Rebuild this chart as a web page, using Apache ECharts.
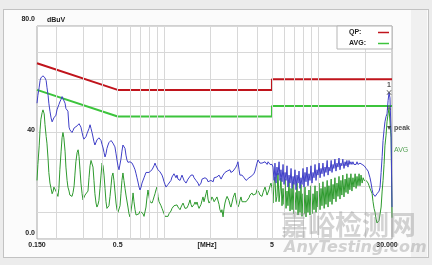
<!DOCTYPE html>
<html><head><meta charset="utf-8">
<script src="https://cdn.jsdelivr.net/npm/echarts@6/dist/echarts.min.js"></script>
<style>
html,body{margin:0;padding:0;background:#ececec;width:432px;height:265px;overflow:hidden;}
#panel{position:absolute;left:3px;top:9px;width:424px;height:247px;background:#fbfbfb;border:1px solid #c2c2c2;}
#strip{position:absolute;left:411px;top:10px;width:16px;height:247px;background:#f0f0f0;}
#c{position:absolute;left:0;top:0;width:432px;height:265px;}
</style>
</head><body><div id="panel"></div><div id="strip"></div><div id="c"></div>
<script>
// Frequency grid (MHz)
const freq = [
.150,.152,.155,.157,.159,.162,.164,.167,.169,.172,
.174,.177,.179,.182,.185,.188,.191,.193,.196,.199,
.202,.205,.208,.211,.215,.218,.221,.224,.228,.231,
.235,.238,.242,.245,.249,.253,.257,.261,.264,.268,
.273,.277,.281,.285,.289,.294,.298,.302,.307,.312,
.316,.321,.326,.331,.336,.341,.346,.351,.356,.362,
.367,.373,.378,.384,.390,.396,.402,.408,.414,.420,
.426,.433,.439,.446,.453,.459,.466,.473,.480,.488,
.495,.502,.510,.518,.525,.533,.541,.549,.558,.566,
.574,.583,.592,.601,
.610,.620,.629,.638,.648,.658,.667,.677,.688,.698,
.709,.719,.730,.741,.752,.763,.775,.786,.798,.810,
.822,.835,.847,.860,.873,.886,.899,.913,.927,.941,
.955,.969,.984,.999,1.014,1.029,1.044,1.06,1.076,1.092,
1.108,1.125,1.142,1.159,1.177,1.194,1.212,1.230,1.249,1.268,
1.287,1.306,1.326,1.346,1.366,1.387,1.408,1.429,1.450,1.472,
1.494,1.517,1.540,1.563,1.586,1.610,1.634,1.659,1.684,1.709,
1.735,1.761,1.787,1.814,1.841,1.869,1.897,1.926,1.955,1.984,
2.01,2.04,2.08,2.11,2.14,2.17,2.20,2.24,2.27,2.30,
2.34,2.37,2.41,2.44,2.48,2.52,2.56,2.60,2.63,2.67,
2.71,2.75,2.80,2.84,2.88,2.92,2.97,3.01,3.06,3.10,
3.15,3.20,3.25,3.30,3.35,3.40,3.45,3.50,3.55,3.60,
3.66,3.71,3.77,3.82,3.88,3.94,4.00,4.06,4.12,4.18,
4.25,4.31,4.38,4.44,4.51,4.58,4.65,4.72,4.79,4.86,
4.93,5.01,5.08,5.16,5.23,5.31,5.39,5.47,5.56,5.64,
5.72,5.81,5.90,5.99,6.08,6.17,6.26,6.35,6.45,6.55,
6.65,6.75,6.85,6.95,7.05,7.16,7.27,7.38,7.49,7.60,
7.71,7.83,7.95,8.07,8.19,8.31,8.44,8.56,8.69,8.82,
8.95,9.09,9.23,9.37,9.51,9.65,9.80,9.94,10.1,10.25,
10.4,10.55,10.7,10.9,11.04,11.2,11.4,11.55,11.7,11.9,
12.1,12.25,12.45,12.6,12.8,13.0,13.2,13.4,13.6,13.8,
14.0,14.2,14.4,14.65,14.9,15.1,15.3,15.55,15.8,16.0,
16.25,16.5,16.75,17.0,17.3,17.55,17.8,18.05,18.35,18.6,
18.9,19.2,19.5,19.8,20.1,20.4,20.7,21.0,21.3,21.6,
21.95,22.3,22.6,22.95,23.3,23.65,24.0,24.4,24.75,25.1,
25.5,25.9,26.25,26.65,27.0,27.45,27.85,28.3,28.7,29.1,
29.6,30.0
];
// Peak detector trace (dBuV)
const peakLevel = [
51,54,57,59.5,60.5,61,61.3,61,60.5,59.5,
57,54,51,48,45.5,44,44.5,45.5,46,46.5,
48.5,49,50.5,51.5,52.5,53.5,54,53.4,51,49,
48.5,48,42,41,40.5,40,40.8,41.7,41.5,42.3,
42.5,42.9,43.3,43.6,42,40,38.5,37.5,37.2,38.5,
39.5,40,41.5,42.9,41.5,40,38.3,36.5,35.3,36,
37.2,37.5,38,38.3,37,35.5,34.2,32.5,30.8,32,
34,35.3,36.2,36.8,37,37.2,36,35.3,34.6,32,
29.7,27.5,26,26.5,30,33,35.3,35,34,31.5,
29.7,28.8,28.5,29,
28.5,28.5,28,27,26,24.5,23,21.4,19.5,18.4,
19.5,21,21.5,23,24,25,25.2,24.5,25,24.8,
25.5,26,26,27.5,28.5,27.5,27,26,26,25.2,
24.5,24,22.9,21.5,20.5,19.5,19.5,20.5,21,21,
22,23.3,23,24.5,24,23,24,22.5,22,22,
23,24,23.3,22,21.5,21,21,22.5,23,22.9,
24,23.5,24,23,22.5,22,22,21,20,19.5,
21,22.5,22,22.5,23,22.9,22.5,21.5,21,21,
22,22.5,21.5,23,23.3,22.5,23.3,23,24,24,
22.5,23,24,24.5,25,24.5,25.5,25,25.5,26,
25,25.5,25.5,26,26,27,28,29,26,24,
24.5,24,23.5,23,23,22,22.5,22,23,23.5,
23.5,24,23.5,24.5,25.5,27,28.5,29.7,29,28.5,
29,28.5,28,28.5,29,28.5,28,29,28.5,28,
27.5,28,27,22,28.5,21,27,24,29,22,
26,21.5,28,20.5,25,22,27.5,19.5,24,21,
26.5,19,23.5,20.5,26,18.5,24,21,25.5,19,
23,20.5,26.5,19.5,25,21.5,27,20,24.5,22,
27.5,21,25,23,28,22,26,24,28.5,23,
26.5,24.5,28.5,23.5,27,25,29.5,24,27,25.5,
29.5,25,28,26.5,30,25.5,28.5,27,30.4,26,
28.5,27.5,30,26.5,29,27.5,29.5,27,29.5,28,
29,28,29,28,28.5,28,29,28,28.5,28.5,
28,28,27.5,27.5,27,26.5,26.7,25.5,25,23,
21,18.5,17,16.5,16,16.5,17,17,18,19.5,
25,31,37,41,44,46,47,52,55,53,
40,12
];
// Average detector trace (dBuV)
const avgLevel = [
22,28,35,41,45,47.5,48.5,47,43,38.5,
36,30,25,21,19,17,18,19.5,19.5,18,
17,16,19,26,33,38,40,38,33,27,
22,19.5,18,16.5,16,16,17.5,20,24,29,
32.5,33.5,31,26,21,17,14.7,15,16.5,17,
16,18,23,27.5,29.5,29.7,27,22,17,13.5,
12,13,14.5,19,24,28.5,27.5,24,19,14,
11.5,11,12.5,16,20,23.5,24.8,22,18,13.5,
11,10,10.5,12.5,17,22,24.8,22,19,16.5,
16,12,9.5,8.3,
10.5,13.5,17.3,14,11,9,8.5,8.3,9.5,10.5,
11,11,9.5,8.5,8.3,12,15.8,18.4,16,14,
13.5,13.5,14.5,15.8,17,18.5,19.5,16,14,13.5,
12.5,11.5,11,9.5,8.5,8,7.9,8.5,9.5,9.8,
10.5,11.5,12,12.5,13,12.8,12.8,12,11.5,11,
12,12.5,13.5,12.5,11.5,11,11.7,12.5,13.5,14.7,
13,12,12,13,13.9,13,13.9,12.5,11.5,11.7,
13,14.5,15.8,14,15.5,17,18.4,15,13.5,13.5,
14.5,15.8,15,14,13.5,14,15.8,15.8,13,11,
10,11,8.3,11,13.5,15,16,16.5,14.5,13,
12,13.5,15.5,16.5,17.3,15,13,12,13,14.5,
15.8,14,13.5,14,13.5,14,14.5,14.7,15.5,16.5,
17,17.3,16.5,16,15.8,17,18.5,19.2,17.5,16.5,
15.8,16,17.5,18.5,19.5,18,16.5,17,18.5,20,
21,19,13.5,21,23.3,14,16,24.8,14,18,
22.9,12.5,19,13,22.5,11.5,18,12.5,22,10.5,
19,11,21.5,9.5,17.5,11,21,9,18,10,
20.5,8.5,17,9.5,19.5,8.3,16.5,10,18.4,9,
20,9.5,17,11,20,10,18,12,21,11,
19,12.5,21.5,11.5,19.5,13,22,12,20,14,
22.5,13,20.5,15,23,14,21,16,23.5,15,
22,16.5,24,15.8,22.5,17.5,24.5,17,23,18.5,
24.5,18,23,19.5,24.5,19,23.5,20,24.5,20,
24,21,23,22,22.5,22,21.5,21,20,19,
18,17,14,11.5,10,7.5,6,6.5,7,7,
12,18,22,28,35,39,44,47,49,49,
38,8
];
// Limit lines
const qpLimitFreq = [0.15, 0.5, 5, 5, 30];
const qpLimit = [66, 56, 56, 60, 60];
const avgLimitFreq = [0.15, 0.5, 5, 5, 30];
const avgLimit = [56, 46, 46, 50, 50];
// Grid / ticks
const gridFreqs = [0.2,0.3,0.4,0.5,0.6,0.7,0.8,0.9,1,2,3,4,5,6,7,8,9,10,20];
const xTickValues = [0.15, 0.5, 1.9, 5, 30];
const xTickLabels = ['0.150', '0.5', '[MHz]', '5', '30.000'];
const yTickValues = [0, 40, 80];
const yTickLabels = ['0.0', '40', '80.0'];
// Markers
const marker1 = [28.7, 55];
const marker2 = [28.7, 49.3];
const peakTag = [28.7, 41.7];
const avgTag = [30, 33.5];

const FONT = 'Liberation Sans, Arial, sans-serif';
function findIdx(arr, v) {
  let best = 0, bd = Infinity;
  arr.forEach((t, i) => { const d = Math.abs(t - v) / Math.max(Math.abs(t), 1e-9); if (d < bd) { bd = d; best = i; } });
  return best;
}
const pair = (fs, vs) => fs.map((f, i) => [f, vs[i]]);
const txt = {fontFamily: FONT, fontSize: 7, fontWeight: 'bold', color: '#222'};

const chart = echarts.init(document.getElementById('c'), null, {renderer: 'canvas'});
const xPadR = 10;
chart.setOption({
  animation: false,
  backgroundColor: 'transparent',
  grid: {left: 37, top: 26, width: 355, height: 213, show: true, backgroundColor: '#ffffff', borderColor: '#a6a6a6', borderWidth: 1},
  xAxis: {
    type: 'log', logBase: 10, min: 0.15, max: 30,
    axisLine: {show: false}, axisTick: {show: false}, splitLine: {show: false},
    axisLabel: {
      customValues: xTickValues, margin: 3, hideOverlap: false,
      formatter: v => { const i = findIdx(xTickValues, v); return '{x' + i + '|' + xTickLabels[i] + '}'; },
      rich: {
        x0: Object.assign({}, txt), x1: Object.assign({}, txt), x2: Object.assign({}, txt), x3: Object.assign({}, txt),
        x4: Object.assign({padding: [0, xPadR, 0, 0]}, txt)
      }
    }
  },
  yAxis: {
    type: 'value', min: 0, max: 80, interval: 10,
    axisLine: {show: false}, axisTick: {show: false},
    splitLine: {lineStyle: {color: '#d8d8d8', width: 1}},
    name: 'dBuV', nameLocation: 'end', nameGap: 6,
    nameTextStyle: Object.assign({align: 'left', verticalAlign: 'middle', padding: [0, 0, 0, 10]}, txt),
    axisLabel: {
      customValues: yTickValues, margin: 2,
      formatter: v => { const i = findIdx(yTickValues, v); return '{y' + i + '|' + yTickLabels[i] + '}'; },
      rich: {
        y0: Object.assign({padding: [0, 0, 12, 0]}, txt),
        y1: Object.assign({padding: [0, 0, 4, 0]}, txt),
        y2: Object.assign({padding: [0, 0, 13, 0]}, txt)
      }
    }
  },
  graphic: [
    {type: 'rect', z: 100, shape: {x: 337, y: 26, width: 55, height: 23}, style: {fill: '#ffffff', stroke: '#b5b5b5', lineWidth: 1}},
    {type: 'text', z: 101, x: 349, y: 32, style: {text: 'QP:', font: 'bold 7px ' + FONT, fill: '#222', verticalAlign: 'middle'}},
    {type: 'line', z: 101, shape: {x1: 378, y1: 32.5, x2: 389, y2: 32.5}, style: {stroke: '#c0141c', lineWidth: 1.5}},
    {type: 'text', z: 101, x: 349, y: 43, style: {text: 'AVG:', font: 'bold 7px ' + FONT, fill: '#222', verticalAlign: 'middle'}},
    {type: 'line', z: 101, shape: {x1: 378, y1: 43.5, x2: 389, y2: 43.5}, style: {stroke: '#3cc43c', lineWidth: 1.5}},
    {type: 'text', z: 120, x: 281, y: 211, style: {text: '嘉峪检测网', font: 'bold 27px "Noto Sans CJK SC"', fill: 'rgba(150,150,150,0.42)'}},
    {type: 'text', z: 120, x: 284, y: 240, style: {text: 'AnyTesting.com', font: 'italic bold 16px "DejaVu Sans"', fill: 'rgba(150,150,150,0.42)'}}
  ],
  series: [
    {
      type: 'line', data: [], silent: true, z: 1,
      markLine: {
        silent: true, symbol: ['none', 'none'], label: {show: false}, animation: false,
        lineStyle: {color: '#d8d8d8', type: 'solid', width: 1},
        emphasis: {disabled: true},
        data: gridFreqs.map(f => ({xAxis: f}))
      }
    },
    {name: 'QP:', type: 'line', data: pair(qpLimitFreq, qpLimit), symbol: 'none', z: 3,
     lineStyle: {color: '#c0141c', width: 2}, itemStyle: {color: '#c0141c'}, silent: true},
    {name: 'AVG:', type: 'line', data: pair(avgLimitFreq, avgLimit), symbol: 'none', z: 3,
     lineStyle: {color: '#3cc43c', width: 2}, itemStyle: {color: '#3cc43c'}, silent: true},
    {name: 'AVG trace', type: 'line', data: pair(freq, avgLevel), symbol: 'none', z: 4, sampling: null,
     lineStyle: {color: '#2e9a2e', width: 1}, silent: true},
    {name: 'peak trace', type: 'line', data: pair(freq, peakLevel), symbol: 'none', z: 5, sampling: null,
     lineStyle: {color: '#4040c8', width: 1}, silent: true},
    {type: 'scatter', z: 6, silent: true,
     symbol: 'path://M0,1L1,0L5,4L9,0L10,1L6,5L10,9L9,10L5,6L1,10L0,9L4,5Z',
     symbolSize: 5, itemStyle: {color: '#333'},
     data: [
       {value: marker1, label: {show: true, formatter: '1', position: 'top', distance: 2, fontFamily: FONT, fontSize: 7, fontWeight: 'bold', color: '#222'}},
       {value: marker2, symbolSize: 4}
     ]},
    {type: 'scatter', z: 6, silent: true, symbol: 'triangle', symbolRotate: 180, symbolSize: 4,
     itemStyle: {color: '#222'},
     data: [{value: peakTag, label: {show: true, formatter: 'peak', position: 'right', distance: 3, fontFamily: FONT, fontSize: 7, fontWeight: 'bold', color: '#222'}}]},
    {type: 'scatter', z: 6, silent: true, symbolSize: 0, clip: false,
     data: [{value: avgTag, label: {show: true, formatter: 'AVG', position: 'right', distance: 2, fontFamily: FONT, fontSize: 7, color: '#2a8a2a'}}]}
  ]
});
</script>
</body></html>
